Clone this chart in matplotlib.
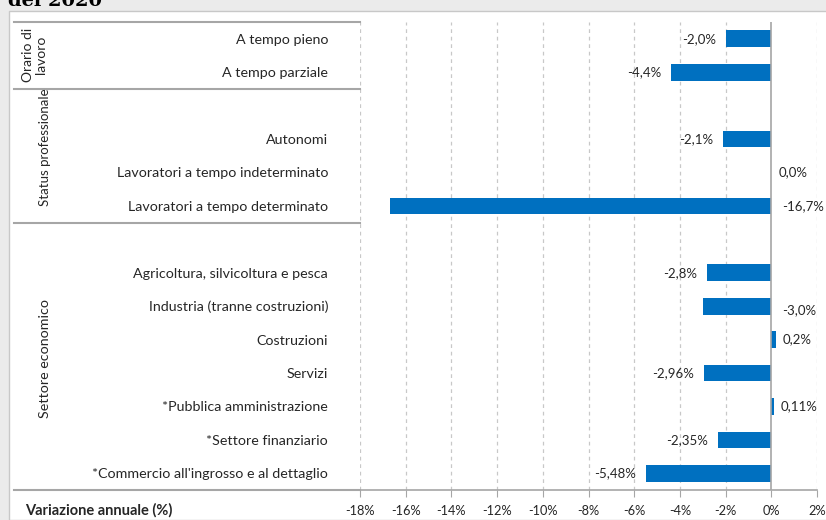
import matplotlib.pyplot as plt
import matplotlib.transforms as mtransforms
from matplotlib.patches import Rectangle
import numpy as np

# dati
categorie = ['A tempo pieno', 'A tempo parziale', '',
             'Autonomi', 'Lavoratori a tempo indeterminato', 'Lavoratori a tempo determinato', '',
             'Agricoltura, silvicoltura e pesca', 'Industria (tranne costruzioni)', 'Costruzioni',
             'Servizi', '*Pubblica amministrazione', '*Settore finanziario',
             "*Commercio all'ingrosso e al dettaglio"]
valori = [-2.0, -4.4, np.nan,
          -2.1, 0.0, -16.7, np.nan,
          -2.8, -3.0, 0.2, -2.96, 0.11, -2.35, -5.48]
etichette = ['-2,0%', '-4,4%', '',
             '-2,1%', '0,0%', '-16,7%', '',
             '-2,8%', '-3,0%', '0,2%', '-2,96%', '0,11%', '-2,35%', '-5,48%']
gruppi = ['Orario di\nlavoro', 'Status professionale', 'Settore economico']
xticks = np.arange(-18, 3, 2)
xtick_labels = [f'{t}%' for t in xticks]

W, H = 826, 520
blu = '#0070C0'
grigio = '#a6a6a6'
testo = '#262626'
plt.rcParams['font.family'] = ['Lato', 'DejaVu Sans']

fig = plt.figure(figsize=(W / 100, H / 100), dpi=100, facecolor='#ebebeb')
fig.patches.append(Rectangle((9 / W, 0), 1, 1 - 11 / H, transform=fig.transFigure,
                             facecolor='white', edgecolor='#c8c8c8', lw=1, zorder=-10))
fig.text(8 / W, 1 - 6 / H, 'del 2020', family='DejaVu Serif', weight='bold',
         fontsize=14, va='baseline', ha='left', color='black')

ax = fig.add_axes([360 / W, 1 - 490 / H, (817 - 360) / W, (490 - 22) / H])
ax.set_facecolor('none')
y = np.arange(len(categorie))
ax.barh(y, valori, height=0.5, color=blu, zorder=3)
ax.set_xlim(-18, 2)
ax.set_ylim(len(categorie) - 0.5, -0.5)

# griglia
for t in xticks:
    if t == 0:
        ax.axvline(0, color=grigio, lw=1.2, zorder=4)
    else:
        ax.axvline(t, color='#c8c8c8', lw=0.9, ls=(0, (3, 3)), zorder=1)

# etichette valori
a_destra = {5, 8}
for i, (v, lab) in enumerate(zip(valori, etichette)):
    if not lab:
        continue
    if v >= 0:
        ax.annotate(lab, (max(v, 0), i), xytext=(5, 0), textcoords='offset points',
                    ha='left', va='center', fontsize=9.5, color=testo)
    elif i in a_destra:
        dy = -3 if i == 8 else 0
        ax.annotate(lab, (0, i), xytext=(8, dy), textcoords='offset points',
                    ha='left', va='center', fontsize=9.5, color=testo)
    else:
        ax.annotate(lab, (v, i), xytext=(-7, 0), textcoords='offset points',
                    ha='right', va='center', fontsize=9.5, color=testo)

ax.set_yticks(y)
ax.set_yticklabels(categorie, fontsize=10.3, color=testo)
ax.tick_params(axis='y', length=0, pad=23)
ax.set_xticks(xticks)
ax.set_xticklabels(xtick_labels, fontsize=9.2, color=testo)
ax.tick_params(axis='x', length=5, color=grigio, pad=6)
for s in ['top', 'right', 'left']:
    ax.spines[s].set_visible(False)
ax.spines['bottom'].set_color(grigio)
ax.spines['bottom'].set_linewidth(1.2)

# separatori dei gruppi
tr = mtransforms.blended_transform_factory(fig.transFigure, ax.transData)
for ys in [-0.5, 1.5, 5.5, 13.5]:
    ax.plot([14 / W, 360 / W], [ys, ys], transform=tr, color=grigio, lw=1.5, clip_on=False)

# nomi dei gruppi
fig.text(35 / W, 1 - 55 / H, gruppi[0], rotation=90, ha='center', va='center',
         fontsize=10, color=testo, linespacing=1.1)
fig.text(45 / W, 1 - 147 / H, gruppi[1], rotation=90, ha='center', va='center',
         fontsize=9.5, color=testo)
fig.text(45 / W, 1 - 358 / H, gruppi[2], rotation=90, ha='center', va='center',
         fontsize=10.3, color=testo)

fig.text(25 / W, 1 - 510 / H, 'Variazione annuale (%)', weight='bold', fontsize=10.5,
         ha='left', va='center', color=testo)

plt.savefig('out.png', dpi=100, facecolor=fig.get_facecolor())
